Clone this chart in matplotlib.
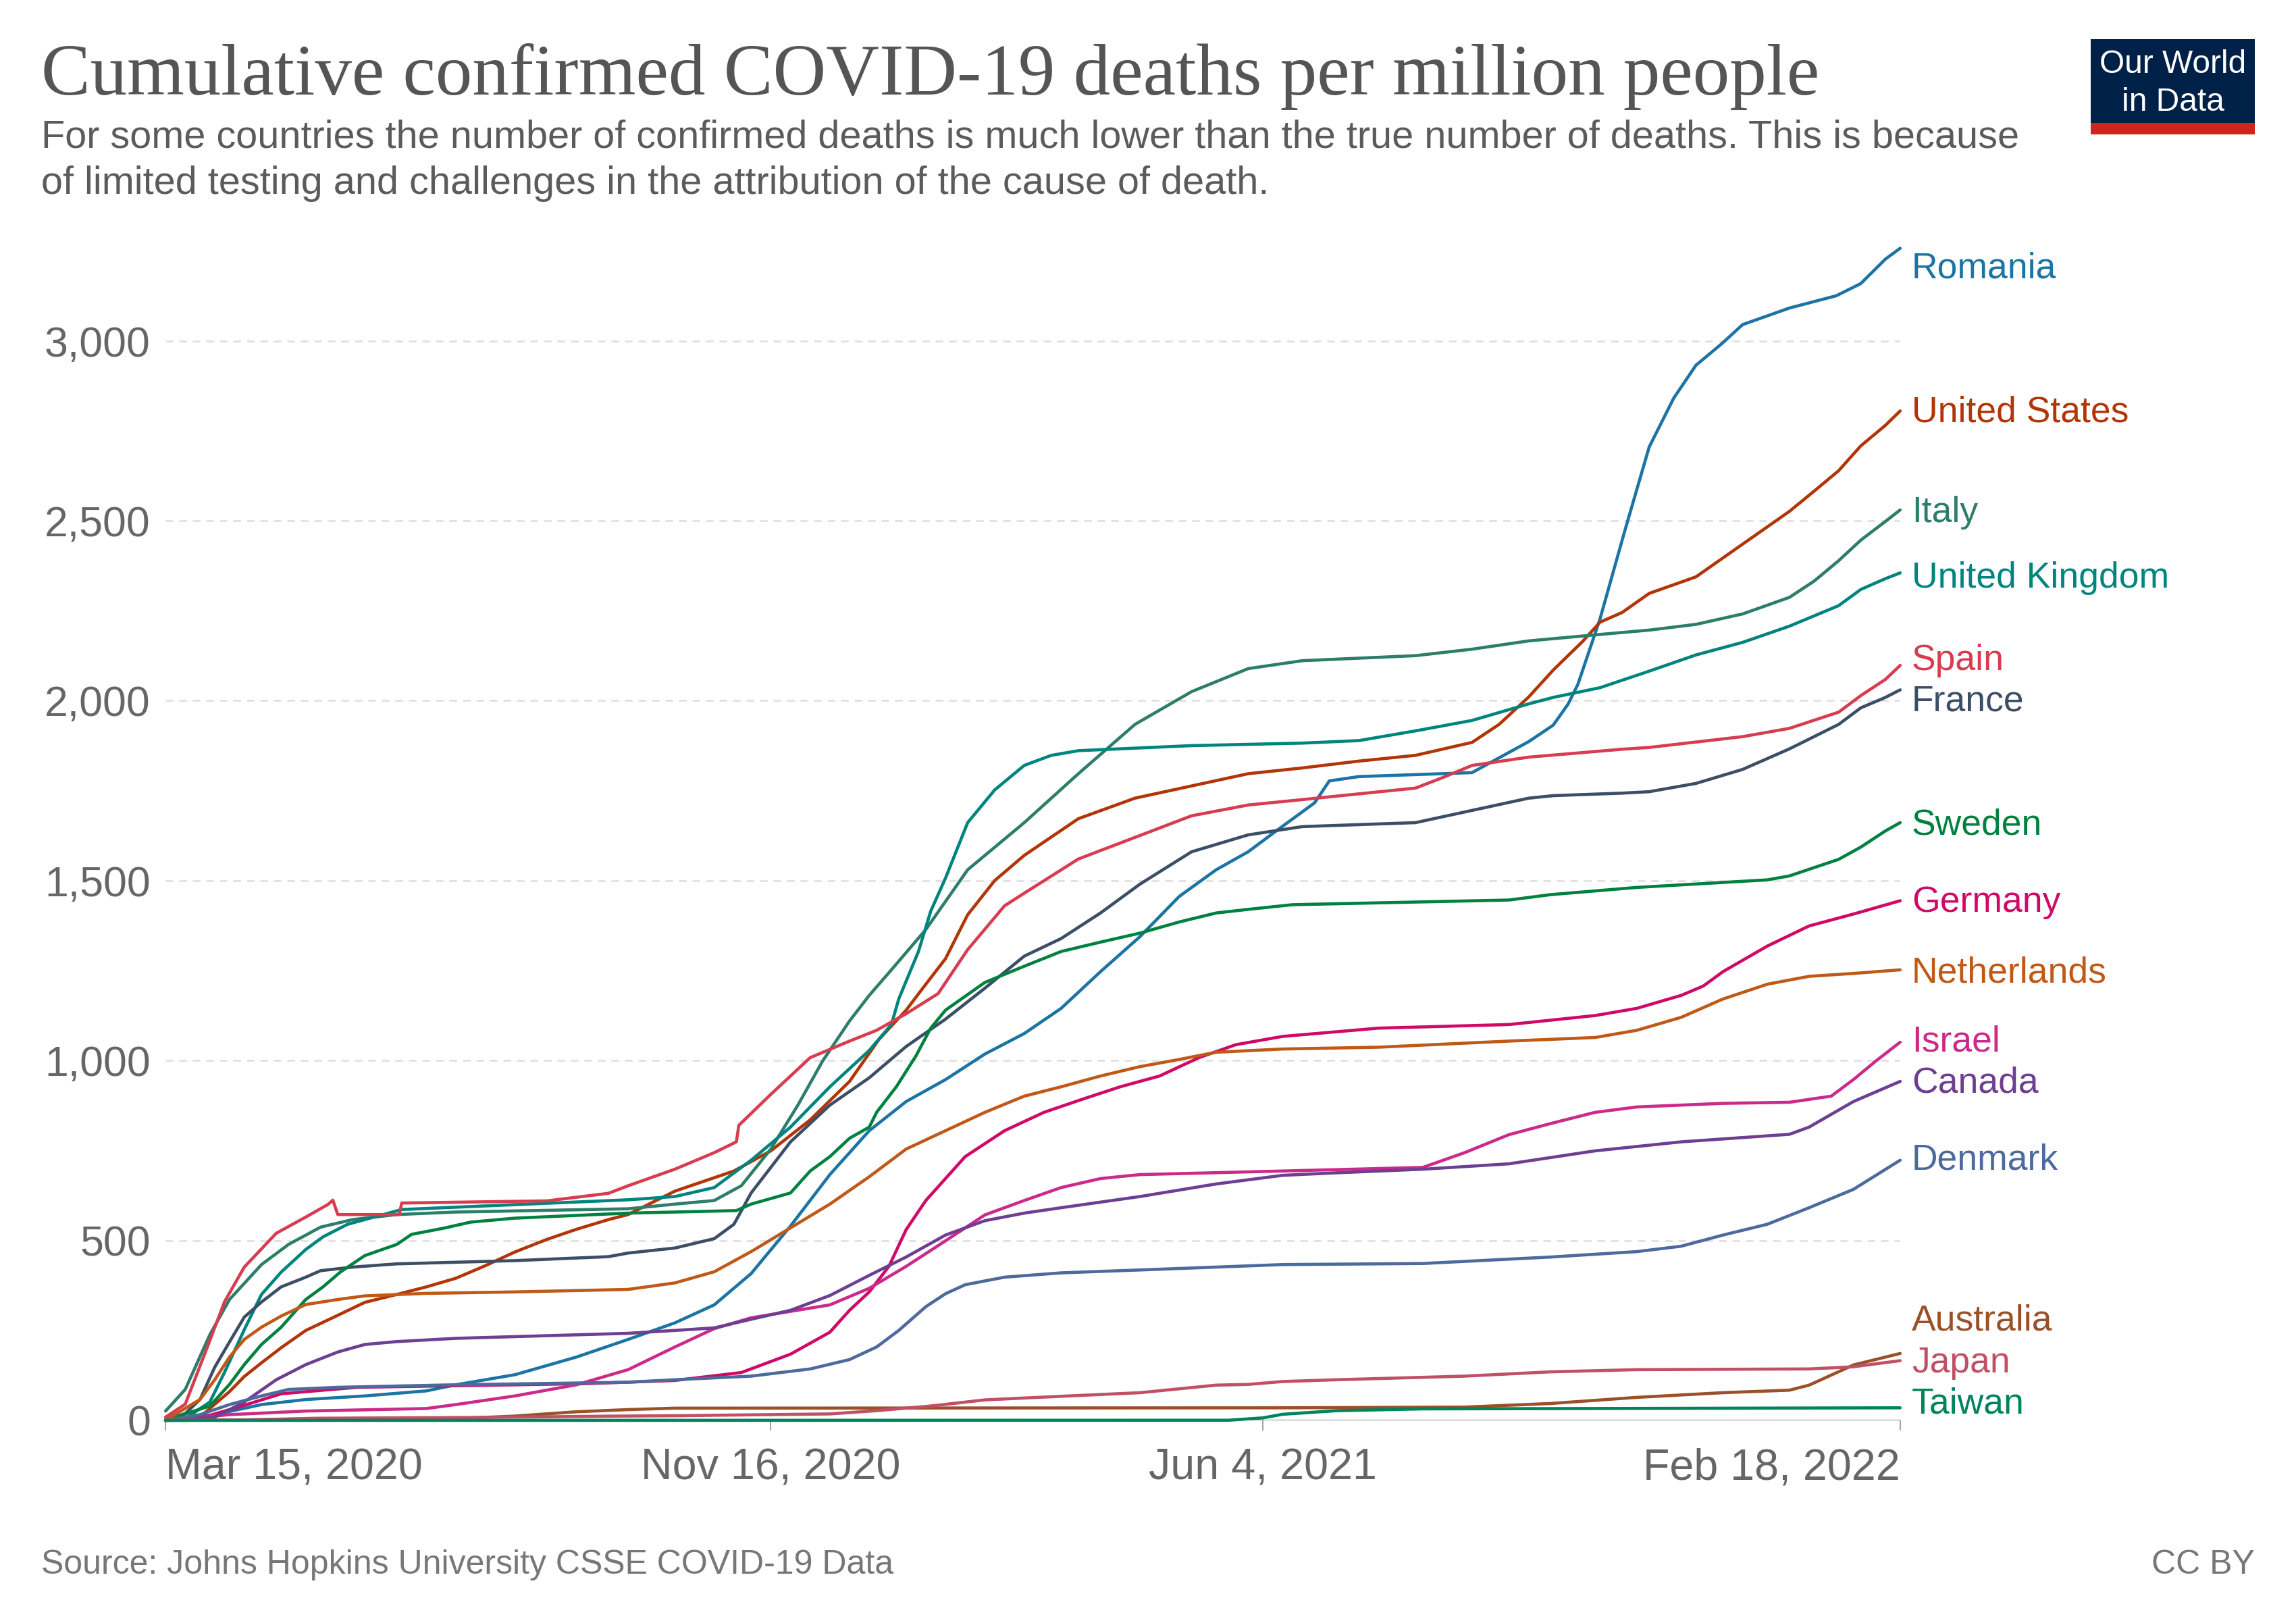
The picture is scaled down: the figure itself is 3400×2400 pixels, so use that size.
#!/usr/bin/env python
"""plot.py
cumulative confirmed COVID-19 deaths per million people, OWID style line chart
"""

import pandas as pd
import matplotlib
matplotlib.use("Agg")
import matplotlib.pyplot as plt
from matplotlib.patches import Rectangle

plt.rcParams['font.family'] = ['Liberation Sans', 'DejaVu Sans']

##########
## DATA ##
##########
# values (deaths per million)
romania_dates = ['2020-03-15', '2020-04-04', '2020-04-23', '2020-05-11', '2020-06-04', '2020-06-29',
                 '2020-07-11', '2020-08-04', '2020-08-29', '2020-09-19', '2020-10-08', '2020-10-24',
                 '2020-11-08', '2020-11-24', '2020-12-10', '2020-12-26', '2021-01-10', '2021-01-26',
                 '2021-02-11', '2021-02-27', '2021-03-14', '2021-03-30', '2021-04-15', '2021-05-01',
                 '2021-05-16', '2021-05-29', '2021-06-09', '2021-06-25', '2021-07-01', '2021-07-13',
                 '2021-08-28', '2021-09-20', '2021-09-30', '2021-10-06', '2021-10-10', '2021-10-19',
                 '2021-10-29', '2021-11-08', '2021-11-18', '2021-11-27', '2021-12-07', '2021-12-16',
                 '2022-01-04', '2022-01-23', '2022-02-02', '2022-02-12', '2022-02-18']
romania_vals = [0, 16, 44, 58, 68, 82, 99, 127, 176, 225, 271, 321, 408, 540, 683, 805, 886, 947,
                1018, 1075, 1145, 1247, 1344, 1456, 1530, 1580, 1636, 1716, 1777, 1789, 1800, 1886,
                1932, 1990, 2045, 2227, 2470, 2705, 2841, 2932, 2989, 3045, 3091, 3125, 3159, 3227, 3257]

us_dates = ['2020-03-15', '2020-03-29', '2020-04-04', '2020-04-10', '2020-04-16', '2020-04-23',
            '2020-05-01', '2020-05-11', '2020-05-24', '2020-06-04', '2020-06-17', '2020-06-29',
            '2020-07-11', '2020-07-23', '2020-08-04', '2020-08-17', '2020-08-29', '2020-09-11',
            '2020-09-19', '2020-10-08', '2020-11-01', '2020-11-16', '2020-12-02', '2020-12-18',
            '2020-12-30', '2021-01-10', '2021-01-18', '2021-01-26', '2021-02-04', '2021-02-15',
            '2021-02-27', '2021-03-21', '2021-04-13', '2021-05-06', '2021-05-29', '2021-06-20',
            '2021-07-13', '2021-08-05', '2021-08-28', '2021-09-08', '2021-09-20', '2021-09-30',
            '2021-10-12', '2021-10-19', '2021-10-28', '2021-11-08', '2021-11-27', '2021-12-16',
            '2022-01-04', '2022-01-14', '2022-01-24', '2022-02-02', '2022-02-12', '2022-02-18']
us_vals = [0.2, 9, 45, 80, 122, 160, 202, 250, 292, 328, 350, 371, 395, 430, 468, 503, 531, 558,
           572, 637, 693, 749, 835, 942, 1059, 1140, 1212, 1283, 1405, 1500, 1570, 1672, 1729,
           1763, 1797, 1813, 1832, 1848, 1884, 1934, 2010, 2085, 2165, 2218, 2245, 2298, 2344,
           2435, 2526, 2582, 2639, 2708, 2765, 2805]

italy_dates = ['2020-03-15', '2020-03-23', '2020-04-02', '2020-04-10', '2020-04-23', '2020-05-04',
               '2020-05-17', '2020-05-30', '2020-06-17', '2020-07-11', '2020-09-19', '2020-10-08',
               '2020-10-24', '2020-11-04', '2020-11-16', '2020-11-27', '2020-12-07', '2020-12-18',
               '2020-12-26', '2021-01-04', '2021-01-18', '2021-02-04', '2021-02-27', '2021-03-21',
               '2021-04-13', '2021-05-06', '2021-05-29', '2021-06-20', '2021-08-05', '2021-08-28',
               '2021-09-20', '2021-10-19', '2021-11-08', '2021-11-27', '2021-12-16', '2022-01-04',
               '2022-01-14', '2022-01-24', '2022-02-02', '2022-02-12', '2022-02-18']
italy_vals = [26, 86, 238, 336, 433, 489, 537, 558, 572, 579, 588, 601, 611, 652, 754, 876, 998,
              1110, 1181, 1252, 1364, 1530, 1661, 1797, 1934, 2025, 2089, 2111, 2125, 2143, 2166,
              2184, 2196, 2212, 2241, 2287, 2332, 2389, 2446, 2498, 2530]

uk_dates = ['2020-03-15', '2020-03-23', '2020-04-02', '2020-04-08', '2020-04-16', '2020-04-23',
            '2020-05-01', '2020-05-11', '2020-05-18', '2020-05-28', '2020-06-19', '2020-09-19',
            '2020-10-08', '2020-10-24', '2020-11-08', '2020-11-24', '2020-12-10', '2020-12-26',
            '2021-01-04', '2021-01-07', '2021-01-15', '2021-01-20', '2021-01-26', '2021-02-04',
            '2021-02-15', '2021-02-27', '2021-03-10', '2021-03-21', '2021-05-06', '2021-06-20',
            '2021-07-13', '2021-08-05', '2021-08-28', '2021-09-20', '2021-09-30', '2021-10-19',
            '2021-11-08', '2021-11-27', '2021-12-16', '2022-01-04', '2022-01-24', '2022-02-02',
            '2022-02-12', '2022-02-18']
uk_vals = [0.5, 5, 51, 134, 252, 350, 412, 475, 510, 545, 586, 613, 622, 647, 723, 815, 927, 1028,
           1100, 1171, 1303, 1415, 1507, 1661, 1752, 1820, 1848, 1861, 1875, 1882, 1889, 1916,
           1945, 1991, 2009, 2036, 2082, 2127, 2162, 2207, 2264, 2309, 2339, 2355]

spain_dates = ['2020-03-15', '2020-03-23', '2020-04-01', '2020-04-08', '2020-04-16', '2020-04-29',
               '2020-05-11', '2020-05-20', '2020-05-22', '2020-05-24', '2020-06-18', '2020-06-19',
               '2020-08-17', '2020-09-11', '2020-09-19', '2020-10-08', '2020-10-24', '2020-11-02',
               '2020-11-03', '2020-11-16', '2020-12-02', '2020-12-18', '2020-12-29', '2021-01-10',
               '2021-01-23', '2021-02-04', '2021-02-19', '2021-02-27', '2021-03-21', '2021-04-13',
               '2021-05-06', '2021-05-29', '2021-06-20', '2021-08-05', '2021-08-16', '2021-08-28',
               '2021-09-20', '2021-10-28', '2021-11-08', '2021-12-16', '2022-01-04', '2022-01-24',
               '2022-02-02', '2022-02-12', '2022-02-18']
spain_vals = [9, 45, 204, 330, 426, 520, 565, 600, 612, 572, 572, 604, 610, 631, 652, 698, 744,
              774, 820, 906, 1008, 1054, 1084, 1130, 1186, 1308, 1430, 1465, 1560, 1620, 1680,
              1710, 1725, 1757, 1786, 1820, 1843, 1865, 1870, 1900, 1923, 1968, 2014, 2059, 2098]

france_dates = ['2020-03-15', '2020-03-23', '2020-03-29', '2020-04-04', '2020-04-10', '2020-04-16',
                '2020-04-23', '2020-05-01', '2020-05-11', '2020-05-17', '2020-05-30', '2020-06-17',
                '2020-08-04', '2020-09-11', '2020-09-19', '2020-10-08', '2020-10-24', '2020-11-01',
                '2020-11-08', '2020-11-16', '2020-11-24', '2020-12-02', '2020-12-10', '2020-12-26',
                '2021-01-10', '2021-01-26', '2021-02-11', '2021-02-27', '2021-03-14', '2021-03-30',
                '2021-04-15', '2021-05-06', '2021-05-29', '2021-06-20', '2021-08-05', '2021-08-28',
                '2021-09-20', '2021-09-30', '2021-10-28', '2021-11-08', '2021-11-27', '2021-12-16',
                '2022-01-04', '2022-01-24', '2022-02-02', '2022-02-12', '2022-02-18']
france_vals = [2, 19, 58, 148, 218, 287, 329, 371, 398, 416, 426, 435, 444, 455, 465, 479, 505,
               545, 632, 703, 774, 825, 876, 952, 1039, 1115, 1201, 1290, 1339, 1410, 1490, 1580,
               1627, 1650, 1661, 1695, 1729, 1736, 1743, 1747, 1770, 1809, 1866, 1934, 1980, 2009,
               2030]

sweden_dates = ['2020-03-15', '2020-04-02', '2020-04-10', '2020-04-16', '2020-04-23', '2020-05-01',
                '2020-05-11', '2020-05-18', '2020-05-25', '2020-06-04', '2020-06-17', '2020-06-23',
                '2020-07-06', '2020-07-17', '2020-08-04', '2020-09-19', '2020-10-08', '2020-11-02',
                '2020-11-08', '2020-11-24', '2020-12-02', '2020-12-10', '2020-12-18', '2020-12-26',
                '2020-12-29', '2021-01-06', '2021-01-14', '2021-01-20', '2021-01-26', '2021-02-11',
                '2021-02-27', '2021-03-14', '2021-03-30', '2021-04-15', '2021-05-01', '2021-05-16',
                '2021-05-29', '2021-06-16', '2021-09-12', '2021-09-29', '2021-11-03', '2021-12-26',
                '2022-01-04', '2022-01-24', '2022-02-02', '2022-02-12', '2022-02-18']
sweden_vals = [0.5, 40, 100, 155, 211, 259, 336, 371, 412, 458, 489, 517, 534, 551, 562, 576, 579,
               583, 601, 632, 693, 733, 784, 815, 856, 927, 1013, 1090, 1140, 1217, 1262, 1303,
               1329, 1354, 1385, 1410, 1420, 1433, 1446, 1461, 1481, 1502, 1513, 1559, 1593, 1638,
               1661]

germany_dates = ['2020-03-15', '2020-04-01', '2020-04-16', '2020-05-01', '2020-06-01', '2020-09-01',
                 '2020-10-08', '2020-11-04', '2020-11-24', '2020-12-10', '2020-12-18', '2020-12-26',
                 '2021-01-03', '2021-01-10', '2021-01-18', '2021-01-26', '2021-02-03', '2021-02-19',
                 '2021-03-07', '2021-03-22', '2021-04-07', '2021-04-23', '2021-05-09', '2021-05-24',
                 '2021-06-12', '2021-07-21', '2021-09-12', '2021-10-17', '2021-11-03', '2021-11-21',
                 '2021-11-30', '2021-12-08', '2021-12-26', '2022-01-12', '2022-01-30', '2022-02-18']
germany_vals = [0.2, 12, 42, 74, 92, 102, 111, 133, 184, 245, 306, 357, 428, 530, 611, 672, 733,
                805, 856, 891, 927, 957, 1008, 1044, 1067, 1090, 1100, 1125, 1145, 1181, 1207, 1247,
                1318, 1374, 1407, 1444]

netherlands_dates = ['2020-03-15', '2020-03-29', '2020-04-04', '2020-04-10', '2020-04-16',
                     '2020-04-23', '2020-05-01', '2020-05-11', '2020-05-24', '2020-06-04',
                     '2020-06-29', '2020-08-04', '2020-09-19', '2020-10-08', '2020-10-24',
                     '2020-11-08', '2020-11-24', '2020-12-10', '2020-12-26', '2021-01-10',
                     '2021-01-26', '2021-02-11', '2021-02-27', '2021-03-14', '2021-03-30',
                     '2021-04-15', '2021-05-01', '2021-05-16', '2021-06-12', '2021-07-21',
                     '2021-09-12', '2021-10-17', '2021-11-03', '2021-11-21', '2021-12-08',
                     '2021-12-26', '2022-01-12', '2022-01-30', '2022-02-18']
netherlands_vals = [1, 58, 113, 176, 225, 259, 290, 322, 336, 346, 353, 357, 364, 382, 413, 469,
                    535, 601, 677, 754, 805, 856, 901, 927, 957, 983, 1003, 1023, 1032, 1037, 1054,
                    1064, 1084, 1120, 1171, 1212, 1234, 1242, 1252]

israel_dates = ['2020-03-15', '2020-04-10', '2020-05-11', '2020-06-29', '2020-07-11', '2020-08-04',
                '2020-08-29', '2020-09-19', '2020-10-08', '2020-10-24', '2020-11-08', '2020-12-10',
                '2020-12-26', '2021-01-10', '2021-01-26', '2021-02-11', '2021-02-27', '2021-03-14',
                '2021-03-30', '2021-04-15', '2021-06-12', '2021-08-08', '2021-08-25', '2021-09-12',
                '2021-09-29', '2021-10-17', '2021-11-03', '2021-12-08', '2022-01-04', '2022-01-21',
                '2022-01-30', '2022-02-08', '2022-02-18']
israel_vals = [0, 16, 26, 33, 44, 68, 99, 141, 204, 255, 285, 321, 367, 428, 499, 571, 611, 647,
               672, 683, 693, 703, 744, 794, 825, 856, 871, 881, 884, 901, 947, 998, 1051]

canada_dates = ['2020-03-15', '2020-04-04', '2020-04-16', '2020-04-29', '2020-05-11', '2020-05-24',
                '2020-06-04', '2020-06-17', '2020-07-11', '2020-09-19', '2020-10-08', '2020-10-24',
                '2020-11-08', '2020-11-24', '2020-12-10', '2020-12-26', '2021-01-10', '2021-01-26',
                '2021-02-11', '2021-02-27', '2021-03-14', '2021-04-15', '2021-05-16', '2021-06-12',
                '2021-07-04', '2021-08-08', '2021-09-12', '2021-10-17', '2021-11-21', '2022-01-04',
                '2022-01-12', '2022-01-30', '2022-02-18']
canada_vals = [0.1, 9, 51, 113, 155, 190, 211, 219, 228, 242, 250, 257, 281, 306, 347, 403, 454,
               515, 555, 576, 591, 622, 657, 681, 688, 698, 713, 749, 774, 795, 815, 886, 942]

denmark_dates = ['2020-03-15', '2020-03-29', '2020-04-10', '2020-04-23', '2020-05-04', '2020-05-24',
                 '2020-07-11', '2020-09-19', '2020-10-08', '2020-11-08', '2020-12-02', '2020-12-18',
                 '2020-12-29', '2021-01-07', '2021-01-18', '2021-01-26', '2021-02-03', '2021-02-19',
                 '2021-03-14', '2021-04-15', '2021-06-12', '2021-08-08', '2021-09-29', '2021-11-03',
                 '2021-11-21', '2021-12-08', '2021-12-26', '2022-01-12', '2022-01-30', '2022-02-18']
denmark_vals = [0.5, 16, 44, 68, 86, 92, 99, 106, 113, 123, 143, 169, 204, 250, 316, 352, 377, 398,
                410, 418, 433, 436, 454, 469, 484, 515, 545, 591, 642, 723]

australia_dates = ['2020-03-15', '2020-07-11', '2020-08-04', '2020-08-29', '2020-09-19', '2020-10-08',
                   '2021-06-12', '2021-08-25', '2021-09-29', '2021-11-03', '2021-12-08', '2022-01-04',
                   '2022-01-12', '2022-01-30', '2022-02-18']
australia_vals = [0.2, 5, 12, 24, 30, 34, 35, 37, 47, 64, 77, 84, 98, 154, 186]

japan_dates = ['2020-03-15', '2020-04-15', '2020-05-15', '2020-07-15', '2020-09-15', '2020-10-08',
               '2020-12-10', '2020-12-29', '2021-01-20', '2021-02-11', '2021-03-14', '2021-04-15',
               '2021-05-16', '2021-05-29', '2021-06-12', '2021-07-04', '2021-08-25', '2021-09-29',
               '2021-11-03', '2022-01-12', '2022-01-30', '2022-02-18']
japan_vals = [0.2, 1, 6, 8, 12, 13, 18, 27, 40, 57, 67, 77, 98, 100, 108, 113, 123, 135, 141, 143,
              149, 166]

taiwan_dates = ['2020-03-15', '2021-05-21', '2021-06-04', '2021-06-12', '2021-07-04', '2021-08-08',
                '2022-02-18']
taiwan_vals = [0.04, 0.5, 7, 17, 27, 32, 35]

countries = ['Romania', 'United States', 'Italy', 'United Kingdom', 'Spain', 'France', 'Sweden',
             'Germany', 'Netherlands', 'Israel', 'Canada', 'Denmark', 'Australia', 'Japan', 'Taiwan']
series_dates = [romania_dates, us_dates, italy_dates, uk_dates, spain_dates, france_dates,
                sweden_dates, germany_dates, netherlands_dates, israel_dates, canada_dates,
                denmark_dates, australia_dates, japan_dates, taiwan_dates]
series_vals = [romania_vals, us_vals, italy_vals, uk_vals, spain_vals, france_vals, sweden_vals,
               germany_vals, netherlands_vals, israel_vals, canada_vals, denmark_vals,
               australia_vals, japan_vals, taiwan_vals]

x_ticks = ['2020-03-15', '2020-11-16', '2021-06-04', '2022-02-18']
x_tick_labels = ['Mar 15, 2020', 'Nov 16, 2020', 'Jun 4, 2021', 'Feb 18, 2022']
y_ticks = [0, 500, 1000, 1500, 2000, 2500, 3000]

###########
## STYLE ##
###########
colors = ['#1b74a3', '#b13507', '#2c7d69', '#00847e', '#d73c50', '#3c4e66', '#00813f',
          '#cf0a66', '#c05917', '#cc2a8a', '#6d3e91', '#4c6a9c', '#9a5129', '#c15065', '#00845b']
# baseline of each end label, in data units (placed to avoid overlaps)
label_base = [3174, 2775, 2497, 2315, 2086, 1971, 1628, 1414, 1217, 1025, 912, 698, 251, 133, 19]

###########
## PLOTS ##
###########
fig = plt.figure(figsize=(34, 24), dpi=100)
ax = fig.add_axes([0.0721, 0.12375, 0.7555, 0.72375])

for ii, name in enumerate(countries):
    ax.plot(pd.to_datetime(series_dates[ii]), series_vals[ii], color=colors[ii], lw=3.3,
            solid_joinstyle='round', solid_capstyle='round', clip_on=False, zorder=3)
    ax.text(1.0066, label_base[ii], name, transform=ax.get_yaxis_transform(),
            fontsize=38.5, color=colors[ii], va='baseline', ha='left')

ax.set_xlim(pd.Timestamp('2020-03-15'), pd.Timestamp('2022-02-18'))
ax.set_ylim(0, 3260)

# dashed grid and bottom axis line
for yy in y_ticks[1:]:
    ax.axhline(yy, color='#dddddd', lw=1.8, linestyle=(0, (4.5, 3.5)), zorder=1)
ax.axhline(0, color='#a0a0a0', lw=1.6, zorder=1.5)
for sp in ax.spines.values():
    sp.set_visible(False)

ax.set_yticks(y_ticks)
ax.set_yticklabels(['{:,}'.format(v) for v in y_ticks])
ax.tick_params(axis='y', length=0, labelsize=45, labelcolor='#666666', pad=16)

ax.set_xticks(pd.to_datetime(x_ticks))
ax.set_xticklabels(x_tick_labels)
ax.tick_params(axis='x', length=11, width=1.4, color='#a0a0a0', labelsize=46.5,
               labelcolor='#666666', pad=18)
xlabs = ax.get_xticklabels()
xlabs[0].set_ha('left')
xlabs[-1].set_ha('right')

# header
fig.text(0.018, 0.9417, 'Cumulative confirmed COVID-19 deaths per million people',
         fontsize=78.5, family=['Liberation Serif', 'DejaVu Serif'], color='#555555', va='baseline')
fig.text(0.018, 0.9088, 'For some countries the number of confirmed deaths is much lower than '
         'the true number of deaths. This is because', fontsize=41.5, color='#5b5b5b', va='baseline')
fig.text(0.018, 0.8804, 'of limited testing and challenges in the attribution of the cause of death.',
         fontsize=41.5, color='#5b5b5b', va='baseline')

# logo
fig.add_artist(Rectangle((0.9106, 0.9171), 0.0715, 0.0588, transform=fig.transFigure,
                         facecolor='#002147', edgecolor='none'))
fig.add_artist(Rectangle((0.9106, 0.9171), 0.0715, 0.0071, transform=fig.transFigure,
                         facecolor='#ce261e', edgecolor='none'))
fig.text(0.9464, 0.9600, 'Our World', fontsize=34.5, color='white', ha='center', va='center')
fig.text(0.9464, 0.9370, 'in Data', fontsize=34.5, color='white', ha='center', va='center')

# footer
fig.text(0.018, 0.0292, 'Source: Johns Hopkins University CSSE COVID-19 Data', fontsize=36,
         color='#777777', va='baseline')
fig.text(0.982, 0.0292, 'CC BY', fontsize=36, color='#777777', va='baseline', ha='right')

fig.savefig('out.png', dpi=100, facecolor='white')
